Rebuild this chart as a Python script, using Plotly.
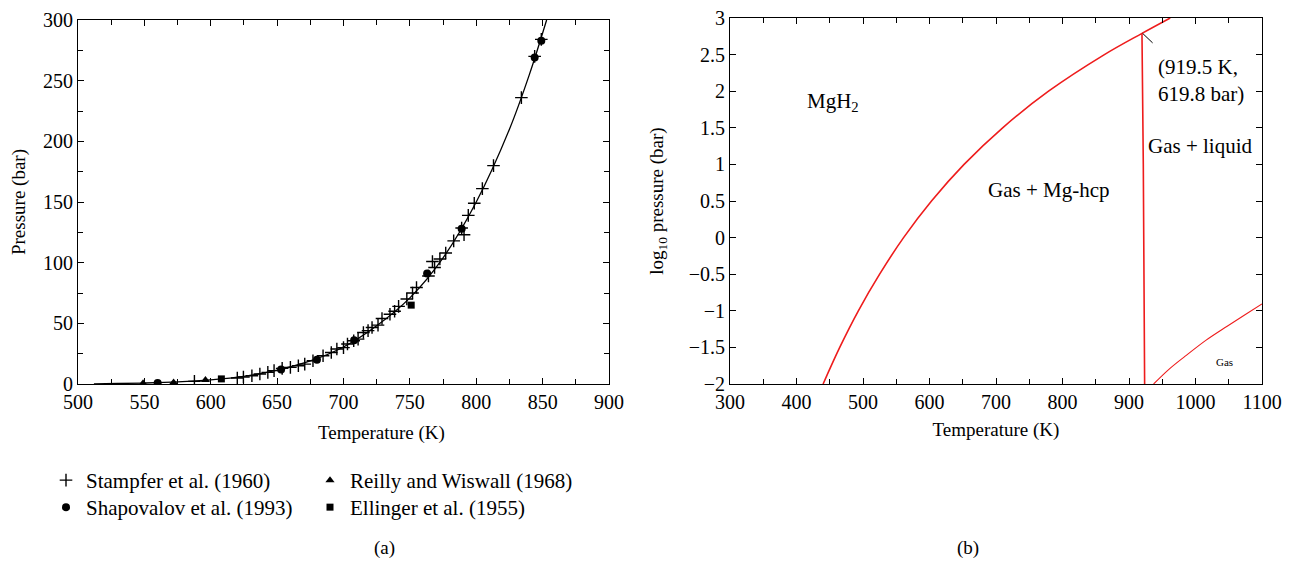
import plotly.graph_objects as go

# ---------- Data: panel (a) ----------
curve_T = [512, 530, 550, 575, 600, 625, 650, 675, 700, 725, 750, 775, 800, 825, 840, 853]
curve_P = [0.15, 0.4, 0.8, 1.7, 3.4, 6.3, 11.5, 19, 30.5, 48, 71, 104, 150, 210, 255, 300]

stampfer_T = [587.7, 620, 624.6, 631, 637, 643, 647.7, 653.8, 660, 666, 670.8, 677, 684.6, 690.8,
              695, 700, 703, 707.7, 711, 715, 718.5, 721.5, 726, 729, 735, 738.5, 741.5, 747.7,
              752, 755, 764, 767, 768.6, 772.6, 777, 783, 789, 790.8, 794, 798.5, 804.6, 813, 834,
              844, 849]
stampfer_P = [2.2, 4.9, 5.8, 6.8, 8.2, 9.6, 11, 12.9, 13.7, 15, 16.4, 19.2, 23.3, 26,
              28.8, 30, 33, 35.6, 37, 42.5, 44, 46.6, 48.5, 54, 57.5, 60, 64, 70,
              75, 79.5, 89, 101, 96, 103, 108, 118, 128.6, 123, 139, 149, 161, 180, 236,
              270, 284]

shapovalov_T = [560, 653, 680, 708, 763, 789, 844, 849]
shapovalov_P = [0.9, 12, 20, 36, 91, 128, 269, 283]

reilly_T = [549, 572, 596]
reilly_P = [0.6, 1.3, 3.2]

ellinger_T = [608, 751]
ellinger_P = [4.2, 65]

# ---------- Data: panel (b) ----------
hyd_T = [440, 465, 493, 525, 561, 603, 652, 710, 779, 863, 919.5, 962]
hyd_logP = [-2, -1.5, -1, -0.5, 0, 0.5, 1, 1.5, 2, 2.5, 2.79, 3]

melt_T = [919.5, 921.5, 923.5]
melt_logP = [2.79, 1.0, -2]

gas_T = [937, 960, 984.5, 1016, 1047.6, 1075, 1100]
gas_logP = [-2, -1.8, -1.62, -1.40, -1.21, -1.05, -0.906]

FONT = "Liberation Serif"
W, H = 1289, 554   # page body has an 8px margin
OFF = 8


def px_x(p):
    return (p - OFF) / W


def px_y(p):
    return 1 - (p - OFF) / H


fig = go.Figure()

# panel (a)
fig.add_trace(go.Scatter(x=curve_T, y=curve_P, mode="lines",
                         line=dict(color="black", width=1.3, shape="spline"),
                         showlegend=False, xaxis="x", yaxis="y", hoverinfo="skip"))
fig.add_trace(go.Scatter(x=stampfer_T, y=stampfer_P, mode="markers", name="Stampfer et al. (1960)",
                         marker=dict(symbol="cross-thin", size=9, line=dict(color="black", width=1.4),
                                     color="black"),
                         xaxis="x", yaxis="y", legend="legend"))
fig.add_trace(go.Scatter(x=shapovalov_T, y=shapovalov_P, mode="markers", name="Shapovalov et al. (1993)",
                         marker=dict(symbol="circle", size=8, color="black"),
                         xaxis="x", yaxis="y", legend="legend2"))
fig.add_trace(go.Scatter(x=reilly_T, y=reilly_P, mode="markers", name="Reilly and Wiswall (1968)",
                         marker=dict(symbol="triangle-up", size=8, color="black"),
                         xaxis="x", yaxis="y", legend="legend3"))
fig.add_trace(go.Scatter(x=ellinger_T, y=ellinger_P, mode="markers", name="Ellinger et al. (1955)",
                         marker=dict(symbol="square", size=7, color="black"),
                         xaxis="x", yaxis="y", legend="legend4"))

# panel (b)
red = "#ee1c1c"
fig.add_trace(go.Scatter(x=hyd_T, y=hyd_logP, mode="lines",
                         line=dict(color=red, width=1.6, shape="spline", smoothing=1.0),
                         showlegend=False, xaxis="x2", yaxis="y2", hoverinfo="skip"))
fig.add_trace(go.Scatter(x=melt_T, y=melt_logP, mode="lines", line=dict(color=red, width=1.6),
                         showlegend=False, xaxis="x2", yaxis="y2", hoverinfo="skip"))
fig.add_trace(go.Scatter(x=gas_T, y=gas_logP, mode="lines",
                         line=dict(color=red, width=1.1, shape="spline"),
                         showlegend=False, xaxis="x2", yaxis="y2", hoverinfo="skip"))

axis_common = dict(showline=True, linecolor="black", linewidth=1, mirror="ticks", ticks="inside",
                   ticklen=6, tickwidth=1, tickcolor="black", showgrid=False, zeroline=False,
                   tickfont=dict(family=FONT, size=20, color="black"), ticklabeloverflow="allow",
                   title_font=dict(family=FONT, size=19, color="black"), automargin=False)

legend_font = dict(family=FONT, size=21, color="black")


def leg(xp, yp):
    return dict(x=px_x(xp), y=px_y(yp), xanchor="left", yanchor="top", orientation="v",
                font=legend_font, bgcolor="rgba(0,0,0,0)", itemclick=False, tracegroupgap=0)


fig.update_layout(
    width=W, height=H,
    margin=dict(l=0, r=0, t=0, b=0),
    paper_bgcolor="white", plot_bgcolor="white",
    font=dict(family=FONT, size=19, color="black"),
    xaxis=dict(domain=[px_x(78), px_x(609)], range=[500, 900], dtick=50, tick0=500,
               minor=dict(dtick=25, ticks="inside", ticklen=5, tickcolor="black"),
               anchor="y", **axis_common),
    yaxis=dict(domain=[px_y(384), px_y(20)], range=[0, 300], dtick=50, tick0=0,
               minor=dict(dtick=25, ticks="inside", ticklen=5, tickcolor="black"),
               title=dict(text="Pressure (bar)", standoff=16), anchor="x", **axis_common),
    xaxis2=dict(domain=[px_x(730), px_x(1262)], range=[300, 1100], dtick=100, tick0=300,
                minor=dict(dtick=50, ticks="inside", ticklen=5, tickcolor="black"),
                title=dict(text="Temperature (K)", standoff=10), anchor="y2", **axis_common),
    yaxis2=dict(domain=[px_y(384), px_y(18)], range=[-2, 3], dtick=0.5, tick0=-2,
                title=dict(text="log<sub>10</sub> pressure (bar)", standoff=20), anchor="x2", **axis_common),
    legend=leg(46, 460),
    legend2=leg(46, 487),
    legend3=leg(310, 460),
    legend4=leg(310, 487),
    showlegend=True,
)

# pointer to the triple point (919.5 K, 619.8 bar)
fig.add_shape(type="line", xref="x2", yref="y2", x0=920.5, y0=2.79, x1=935.5, y1=2.66,
              line=dict(color="black", width=1))

ann_font = dict(family=FONT, size=21, color="black")
fig.add_annotation(x=455, y=1.85, xref="x2", yref="y2", text="MgH<sub>2</sub>",
                   showarrow=False, font=ann_font, xanchor="center", yanchor="middle")
fig.add_annotation(x=779, y=0.65, xref="x2", yref="y2", text="Gas + Mg-hcp", showarrow=False,
                   font=ann_font, xanchor="center", yanchor="middle")
fig.add_annotation(x=1008, y=1.25, xref="x2", yref="y2", text="Gas + liquid", showarrow=False,
                   font=ann_font, xanchor="center", yanchor="middle")
fig.add_annotation(x=941, y=2.14, xref="x2", yref="y2", text="(919.5 K,<br>619.8 bar)", showarrow=False,
                   font=ann_font, align="left", xanchor="left", yanchor="middle")
fig.add_annotation(x=1044, y=-1.70, xref="x2", yref="y2", text="Gas", showarrow=False,
                   font=dict(family=FONT, size=11, color="black"), xanchor="center", yanchor="middle")

# x-axis title of panel (a)
fig.add_annotation(x=px_x(381), y=px_y(433), xref="paper", yref="paper", text="Temperature (K)",
                   showarrow=False, font=dict(family=FONT, size=19, color="black"),
                   xanchor="center", yanchor="middle")

fig.add_annotation(x=px_x(385), y=px_y(548), xref="paper", yref="paper", text="(a)", showarrow=False,
                   font=dict(family=FONT, size=19, color="black"), xanchor="center", yanchor="middle")
fig.add_annotation(x=px_x(968), y=px_y(548), xref="paper", yref="paper", text="(b)", showarrow=False,
                   font=dict(family=FONT, size=19, color="black"), xanchor="center", yanchor="middle")

fig.write_html("out.html")
